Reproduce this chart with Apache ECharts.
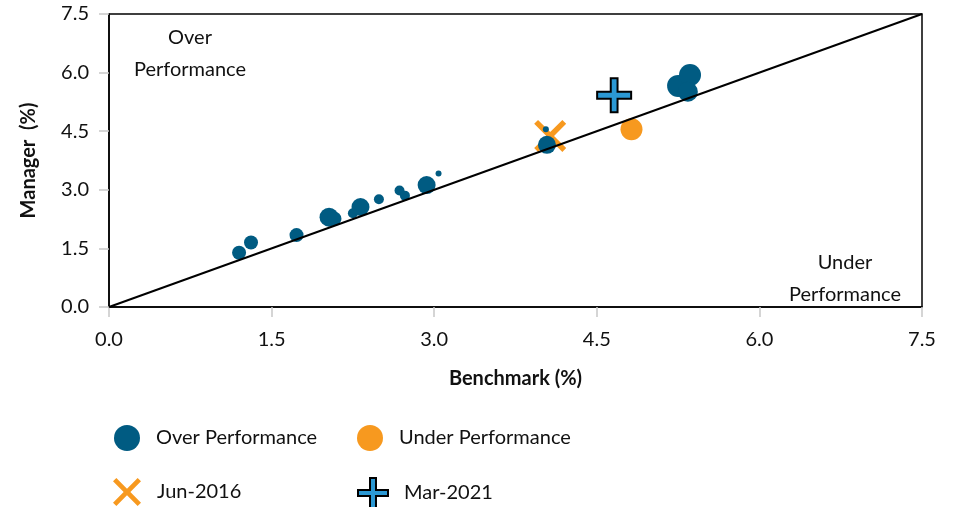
<!DOCTYPE html>
<html><head><meta charset="utf-8">
<script src="https://cdn.jsdelivr.net/npm/echarts@6/dist/echarts.min.js"></script>
<style>html,body{margin:0;padding:0;background:#fff}#c{width:960px;height:507px}</style>
</head><body><div id="c"></div>
<script>
// Axis ticks
var axisMin = 0, axisMax = 7.5, axisStep = 1.5;
// Over Performance points: benchmark, manager, bubble weight
var overX = [1.20, 1.31, 1.73, 2.03, 2.08, 2.25, 2.32, 2.49, 2.68, 2.73, 2.93, 3.04, 4.04, 4.03, 5.25, 5.36, 5.34];
var overY = [1.39, 1.65, 1.84, 2.30, 2.26, 2.40, 2.56, 2.76, 2.98, 2.85, 3.12, 3.42, 4.15, 4.55, 5.66, 5.94, 5.51];
var overW = [14, 14, 14, 19, 14, 10, 18, 10, 10, 10, 18, 6, 18, 6, 22, 22, 20];
// Under Performance points
var underX = [4.82];
var underY = [4.55];
var underW = [22];
// Highlighted periods
var junX = [4.07], junY = [4.38];
var marX = [4.66], marY = [5.42];

var FONT = 'Lato, "Open Sans", sans-serif';
var BLUE = '#005B82', ORANGE = '#F7991F', LIGHT = '#2B98D3';
var X_PATH = 'path://M12,0 L50,38 L88,0 L100,12 L62,50 L100,88 L88,100 L50,62 L12,100 L0,88 L38,50 L0,12 Z';
var PLUS_PATH = 'path://M40,0 L60,0 L60,40 L100,40 L100,60 L60,60 L60,100 L40,100 L40,60 L0,60 L0,40 L40,40 Z';

function pts(xs, ys, ws) { return xs.map(function (x, i) { return ws ? [x, ys[i], ws[i]] : [x, ys[i]]; }); }

var chart = echarts.init(document.getElementById('c'));
function legendAt(name, left, top, icon, w, h) {
  return { show: true, left: left, top: top, data: [{ name: name, icon: icon }], itemWidth: w, itemHeight: h,
    textStyle: { fontFamily: FONT, fontSize: 20, color: '#111', padding: [0, 0, 0, 11] }, selectedMode: false };
}
chart.setOption({
  animation: false,
  grid: { left: 109, right: 38, top: 14, bottom: 200, show: true, borderColor: '#000', borderWidth: 1.5 },
  xAxis: { type: 'value', min: axisMin, max: axisMax, interval: axisStep,
    name: 'Benchmark (%)', nameLocation: 'middle', nameGap: 62,
    nameTextStyle: { fontFamily: FONT, fontSize: 20, fontWeight: 'bold', color: '#111' },
    axisLine: { show: true, lineStyle: { color: '#000', width: 1.5 } },
    axisTick: { show: true, length: 10, lineStyle: { color: '#c8c8c8', width: 1.5 } },
    axisLabel: { margin: 23, fontFamily: FONT, fontSize: 20, color: '#111', formatter: function (v) { return v.toFixed(1); } },
    splitLine: { show: false } },
  yAxis: { type: 'value', min: axisMin, max: axisMax, interval: axisStep,
    name: 'Manager  (%)', nameLocation: 'middle', nameGap: 70,
    nameTextStyle: { fontFamily: FONT, fontSize: 20, fontWeight: 'bold', color: '#111' },
    axisLine: { show: true, lineStyle: { color: '#000', width: 1.5 } },
    axisTick: { show: true, length: 10, lineStyle: { color: '#c8c8c8', width: 1.5 } },
    axisLabel: { margin: 20, fontFamily: FONT, fontSize: 20, color: '#111', formatter: function (v) { return v.toFixed(1); } },
    splitLine: { show: false } },
  legend: [
    legendAt('Over Performance', 109, 420, 'circle', 26, 26),
    legendAt('Under Performance', 352, 420, 'circle', 26, 26),
    legendAt('Jun-2016', 108, 473, X_PATH, 28, 28),
    legendAt('Mar-2021', 352, 472, PLUS_PATH, 30, 30)
  ],
  graphic: [
    { type: 'text', x: 190, y: 22, style: { text: 'Over\nPerformance', align: 'center', fontFamily: FONT, fontSize: 20, lineHeight: 32, fill: '#111' } },
    { type: 'text', x: 845, y: 247, style: { text: 'Under\nPerformance', align: 'center', fontFamily: FONT, fontSize: 20, lineHeight: 32, fill: '#111' } }
  ],
  series: [
    { type: 'line', name: 'parity', data: [[axisMin, axisMin], [axisMax, axisMax]], symbol: 'none', silent: true,
      lineStyle: { color: '#000', width: 2 }, z: 5 },
    { type: 'scatter', name: 'Jun-2016', data: pts(junX, junY), symbol: X_PATH, symbolSize: 32,
      itemStyle: { color: ORANGE, opacity: 1 }, z: 2 },
    { type: 'scatter', name: 'Over Performance', data: pts(overX, overY, overW), symbol: 'circle',
      symbolSize: function (d) { return d[2]; }, itemStyle: { color: BLUE, opacity: 1 }, z: 3 },
    { type: 'scatter', name: 'Under Performance', data: pts(underX, underY, underW), symbol: 'circle',
      symbolSize: function (d) { return d[2]; }, itemStyle: { color: ORANGE, opacity: 1 }, z: 3 },
    { type: 'scatter', name: 'Mar-2021', data: pts(marX, marY), symbol: PLUS_PATH, symbolSize: 34,
      itemStyle: { color: LIGHT, borderColor: '#000', borderWidth: 2, opacity: 1 }, z: 4 }
  ]
});
</script></body></html>
